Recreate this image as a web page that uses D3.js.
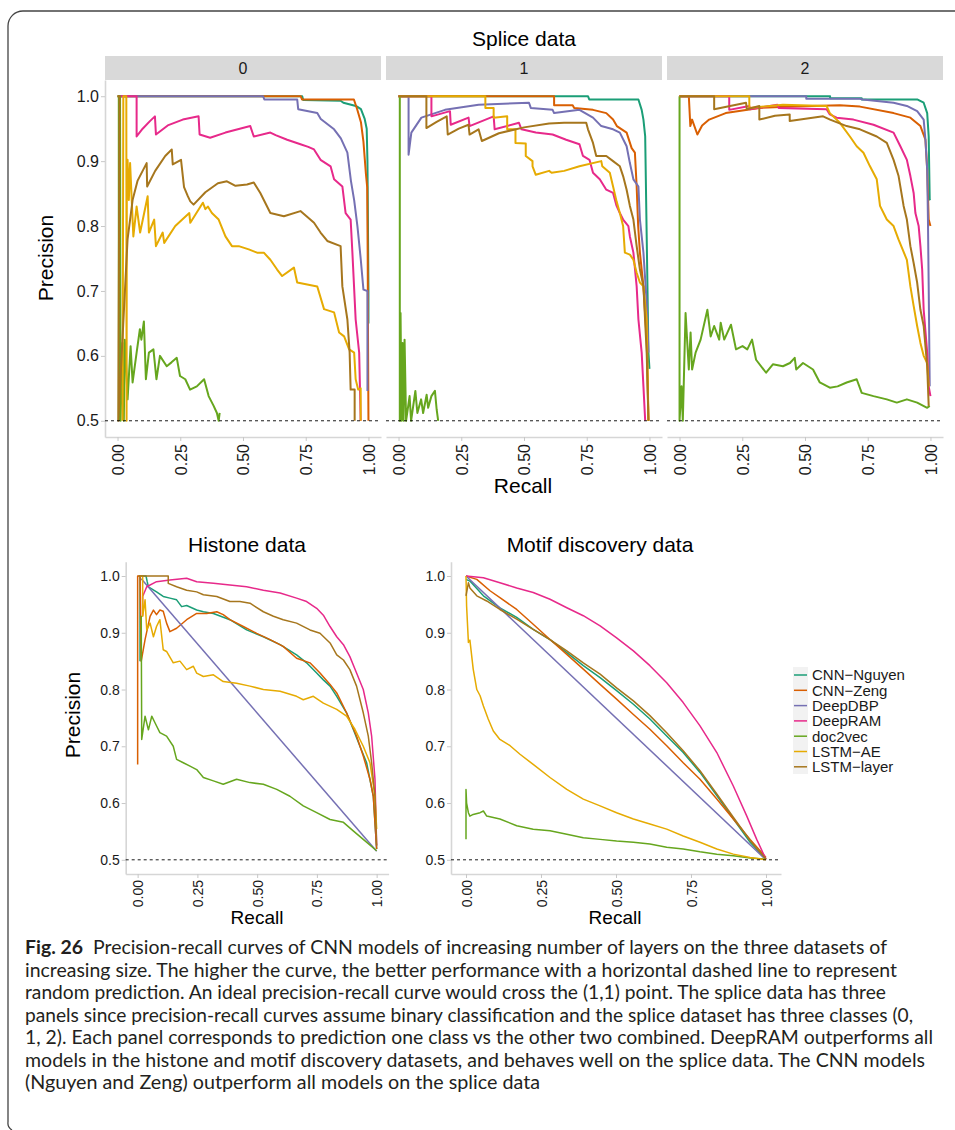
<!DOCTYPE html>
<html>
<head>
<meta charset="utf-8">
<script src="https://cdn.jsdelivr.net/npm/d3@7"></script>
<style>
  body { margin: 0; background: #fff; }
  svg { display: block; }
</style>
</head>
<body>
<div id="chart"></div>
<script>
// models and colours (ggplot Dark2)
const models = ["CNN\u2212Nguyen", "CNN\u2212Zeng", "DeepDBP", "DeepRAM", "doc2vec", "LSTM\u2212AE", "LSTM\u2212layer"];
const colours = ["#1B9E77", "#D95F02", "#7570B3", "#E7298A", "#66A61E", "#E6AB02", "#A6761D"];
const xTicks = [0, 0.25, 0.5, 0.75, 1];
const xTickLabels = ["0.00", "0.25", "0.50", "0.75", "1.00"];
const yTicks = [0.5, 0.6, 0.7, 0.8, 0.9, 1.0];
const yTickLabels = ["0.5", "0.6", "0.7", "0.8", "0.9", "1.0"];
const facetLabels = ["0", "1", "2"];
const randomLine = 0.5;

// splice data, class 0 : [recall, precision]
const s0Nguyen = [[0,1],[0.736,1],[0.74,0.994],[0.889,0.993],[0.9,0.99],[0.95,0.985],[0.97,0.98],[0.985,0.965],[0.993,0.95],[0.996,0.9],[0.998,0.8],[1.0,0.7],[1.0,0.65]];
const s0Zeng = [[0,1],[0.73,1],[0.735,0.995],[0.942,0.995],[0.955,0.98],[0.97,0.96],[0.98,0.93],[0.99,0.88],[0.995,0.86],[0.997,0.75],[0.998,0.65],[1.0,0.5]];
const s0DBP = [[0.01,1],[0.58,1],[0.585,0.995],[0.716,0.995],[0.72,0.98],[0.796,0.974],[0.81,0.965],[0.863,0.949],[0.89,0.935],[0.916,0.913],[0.93,0.87],[0.943,0.84],[0.956,0.8],[0.969,0.75],[0.98,0.702],[0.996,0.7],[0.996,0.546]];
const s0RAM = [[0.01,1],[0.076,1],[0.076,0.938],[0.1,0.95],[0.13,0.962],[0.149,0.969],[0.153,0.941],[0.2,0.955],[0.26,0.964],[0.323,0.969],[0.327,0.941],[0.369,0.936],[0.43,0.944],[0.529,0.954],[0.543,0.938],[0.609,0.944],[0.63,0.94],[0.676,0.933],[0.729,0.926],[0.76,0.922],[0.783,0.918],[0.809,0.902],[0.849,0.892],[0.863,0.872],[0.896,0.861],[0.909,0.82],[0.929,0.81],[0.936,0.759],[0.949,0.656],[0.963,0.605],[0.969,0.5]];
const s0Doc = [[0.005,0.5],[0.005,1],[0.01,1],[0.012,0.5],[0.02,0.62],[0.025,0.5],[0.029,0.625],[0.035,0.579],[0.04,0.533],[0.052,0.615],[0.06,0.559],[0.076,0.605],[0.089,0.641],[0.095,0.625],[0.105,0.653],[0.113,0.564],[0.125,0.605],[0.143,0.61],[0.155,0.564],[0.169,0.6],[0.196,0.584],[0.215,0.59],[0.236,0.597],[0.249,0.569],[0.27,0.564],[0.289,0.548],[0.316,0.553],[0.345,0.564],[0.363,0.538],[0.383,0.523],[0.396,0.512],[0.403,0.5],[0.407,0.512]];
const s0AE = [[0.02,0.5],[0.023,1],[0.035,1],[0.036,0.5],[0.037,0.9],[0.04,0.902],[0.045,0.84],[0.05,0.897],[0.063,0.784],[0.076,0.83],[0.09,0.79],[0.12,0.846],[0.125,0.79],[0.146,0.81],[0.153,0.769],[0.18,0.79],[0.186,0.774],[0.23,0.8],[0.286,0.82],[0.29,0.805],[0.34,0.836],[0.35,0.826],[0.36,0.83],[0.376,0.82],[0.403,0.81],[0.43,0.784],[0.456,0.769],[0.483,0.769],[0.523,0.764],[0.556,0.759],[0.583,0.759],[0.609,0.748],[0.636,0.733],[0.656,0.723],[0.703,0.736],[0.716,0.713],[0.796,0.707],[0.823,0.672],[0.863,0.667],[0.883,0.636],[0.903,0.63],[0.923,0.61],[0.943,0.605],[0.949,0.564],[0.959,0.548],[0.969,0.55],[0.969,0.5]];
const s0Layer = [[0,1],[0.008,1],[0.003,0.5],[0.036,0.75],[0.04,0.78],[0.06,0.84],[0.08,0.87],[0.116,0.897],[0.118,0.861],[0.15,0.885],[0.19,0.908],[0.216,0.918],[0.22,0.895],[0.253,0.902],[0.265,0.86],[0.28,0.846],[0.29,0.838],[0.303,0.833],[0.35,0.852],[0.4,0.866],[0.436,0.869],[0.47,0.862],[0.516,0.864],[0.543,0.867],[0.569,0.851],[0.609,0.82],[0.663,0.815],[0.729,0.823],[0.783,0.805],[0.809,0.79],[0.836,0.777],[0.889,0.769],[0.896,0.707],[0.916,0.656],[0.925,0.605],[0.929,0.548],[0.945,0.548],[0.945,0.5]];

// splice data, class 1
const s1Nguyen = [[0,1],[0.755,1],[0.76,0.995],[0.956,0.995],[0.969,0.979],[0.976,0.964],[0.983,0.938],[0.989,0.784],[0.996,0.605],[1.0,0.58]];
const s1Zeng = [[0,1],[0.62,1],[0.62,0.986],[0.694,0.986],[0.7,0.982],[0.775,0.979],[0.828,0.974],[0.855,0.964],[0.87,0.954],[0.909,0.944],[0.929,0.92],[0.942,0.913],[0.949,0.861],[0.955,0.8],[0.962,0.759],[0.976,0.707],[0.989,0.625],[0.996,0.5]];
const s1DBP = [[0,1],[0.04,1],[0.04,0.91],[0.051,0.944],[0.091,0.967],[0.185,0.979],[0.319,0.987],[0.52,0.99],[0.527,0.982],[0.614,0.979],[0.62,0.974],[0.721,0.979],[0.775,0.967],[0.808,0.954],[0.855,0.949],[0.882,0.944],[0.909,0.923],[0.922,0.897],[0.936,0.872],[0.956,0.861],[0.962,0.81],[0.976,0.759],[0.989,0.682],[0.996,0.605]];
const s1RAM = [[0,1],[0.131,1],[0.131,0.969],[0.205,0.977],[0.208,0.956],[0.279,0.967],[0.283,0.954],[0.379,0.969],[0.383,0.949],[0.48,0.959],[0.49,0.949],[0.547,0.944],[0.614,0.941],[0.668,0.933],[0.721,0.926],[0.735,0.908],[0.761,0.902],[0.775,0.882],[0.802,0.872],[0.828,0.856],[0.855,0.851],[0.869,0.831],[0.882,0.82],[0.895,0.81],[0.916,0.8],[0.922,0.784],[0.936,0.759],[0.949,0.707],[0.956,0.656],[0.969,0.605],[0.976,0.553],[0.983,0.5]];
const s1Doc = [[0.005,1],[0.005,0.5],[0.008,0.666],[0.012,0.5],[0.016,0.62],[0.02,0.5],[0.024,0.625],[0.03,0.5],[0.044,0.538],[0.05,0.5],[0.067,0.546],[0.075,0.512],[0.09,0.533],[0.098,0.512],[0.112,0.54],[0.118,0.52],[0.131,0.538],[0.145,0.546],[0.152,0.517],[0.158,0.5]];
const s1AE = [[0,1],[0.346,1],[0.346,0.982],[0.379,0.982],[0.379,0.967],[0.433,0.969],[0.433,0.949],[0.466,0.949],[0.466,0.928],[0.507,0.927],[0.507,0.908],[0.534,0.9],[0.534,0.892],[0.547,0.879],[0.6,0.885],[0.61,0.882],[0.66,0.885],[0.721,0.892],[0.808,0.9],[0.812,0.892],[0.842,0.882],[0.855,0.861],[0.869,0.838],[0.882,0.82],[0.895,0.8],[0.902,0.759],[0.922,0.756],[0.936,0.748],[0.949,0.728],[0.962,0.713],[0.976,0.707],[0.989,0.656],[0.996,0.5]];
const s1Layer = [[0,1],[0.111,1],[0.111,0.951],[0.15,0.96],[0.192,0.969],[0.196,0.941],[0.24,0.95],[0.279,0.956],[0.283,0.941],[0.319,0.949],[0.332,0.931],[0.4,0.943],[0.5,0.952],[0.6,0.958],[0.66,0.959],[0.748,0.959],[0.755,0.949],[0.775,0.928],[0.788,0.908],[0.828,0.908],[0.855,0.9],[0.882,0.892],[0.895,0.877],[0.909,0.856],[0.922,0.831],[0.936,0.81],[0.949,0.769],[0.962,0.733],[0.976,0.707],[0.989,0.605],[0.996,0.5]];

// splice data, class 2
const s2Nguyen = [[0,1],[0.6,1],[0.6,0.997],[0.726,0.997],[0.726,0.995],[0.947,0.995],[0.973,0.99],[0.987,0.974],[0.993,0.938],[0.997,0.841],[1.0,0.84]];
const s2Zeng = [[0,1],[0.037,1],[0.043,0.954],[0.05,0.964],[0.071,0.941],[0.09,0.955],[0.118,0.964],[0.184,0.974],[0.318,0.982],[0.452,0.984],[0.639,0.986],[0.719,0.984],[0.853,0.974],[0.92,0.967],[0.96,0.954],[0.98,0.933],[0.987,0.887],[0.993,0.81],[1.0,0.8]];
const s2DBP = [[0,1],[0.505,1],[0.505,0.996],[0.719,0.996],[0.73,0.995],[0.853,0.99],[0.906,0.985],[0.947,0.977],[0.973,0.964],[0.98,0.933],[0.987,0.887],[0.99,0.81],[0.993,0.707],[0.997,0.553]];
const s2RAM = [[0,1],[0.198,1],[0.198,0.979],[0.278,0.985],[0.28,0.98],[0.39,0.987],[0.395,0.982],[0.586,0.98],[0.599,0.972],[0.626,0.967],[0.693,0.964],[0.773,0.956],[0.853,0.944],[0.88,0.923],[0.906,0.902],[0.92,0.877],[0.933,0.851],[0.94,0.82],[0.953,0.8],[0.96,0.769],[0.967,0.733],[0.973,0.671],[0.987,0.605],[0.993,0.553],[1.0,0.538]];
const s2Doc = [[0,1],[0,0.5],[0.008,0.553],[0.013,0.5],[0.024,0.666],[0.037,0.579],[0.044,0.636],[0.05,0.579],[0.064,0.605],[0.084,0.625],[0.111,0.671],[0.124,0.63],[0.138,0.646],[0.158,0.625],[0.164,0.651],[0.178,0.625],[0.205,0.648],[0.225,0.61],[0.251,0.615],[0.27,0.61],[0.289,0.625],[0.305,0.594],[0.345,0.574],[0.372,0.587],[0.412,0.584],[0.44,0.589],[0.459,0.597],[0.465,0.579],[0.492,0.589],[0.532,0.579],[0.559,0.559],[0.599,0.551],[0.63,0.553],[0.666,0.559],[0.706,0.564],[0.726,0.543],[0.773,0.538],[0.826,0.533],[0.866,0.528],[0.906,0.533],[0.947,0.528],[0.987,0.52],[0.997,0.523]];
const s2AE = [[0,1],[0.278,1],[0.278,0.982],[0.412,0.987],[0.586,0.985],[0.599,0.974],[0.639,0.959],[0.679,0.938],[0.706,0.923],[0.733,0.913],[0.759,0.892],[0.786,0.872],[0.799,0.831],[0.826,0.81],[0.853,0.8],[0.873,0.779],[0.906,0.748],[0.92,0.707],[0.933,0.677],[0.947,0.646],[0.96,0.62],[0.973,0.6],[0.987,0.589],[0.993,0.553]];
const s2Layer = [[0,1],[0.138,1],[0.138,0.98],[0.265,0.99],[0.268,0.98],[0.318,0.985],[0.318,0.964],[0.38,0.97],[0.439,0.972],[0.439,0.962],[0.572,0.969],[0.6,0.964],[0.666,0.954],[0.719,0.949],[0.786,0.938],[0.826,0.928],[0.853,0.902],[0.873,0.877],[0.893,0.831],[0.906,0.81],[0.92,0.769],[0.933,0.743],[0.947,0.713],[0.96,0.671],[0.973,0.646],[0.987,0.584],[0.993,0.523]];

// histone data
const hNguyen = [[0.01,0.85],[0.01,1],[0.035,1],[0.04,0.99],[0.045,0.981],[0.079,0.972],[0.107,0.964],[0.135,0.961],[0.163,0.958],[0.184,0.946],[0.205,0.948],[0.247,0.94],[0.275,0.937],[0.317,0.934],[0.386,0.923],[0.456,0.905],[0.526,0.893],[0.596,0.879],[0.665,0.861],[0.707,0.847],[0.749,0.829],[0.777,0.817],[0.805,0.806],[0.833,0.788],[0.874,0.759],[0.902,0.73],[0.93,0.7],[0.958,0.671],[0.986,0.612],[1.0,0.519]];
const hZeng = [[0,0.668],[0,1],[0.01,1],[0.015,0.85],[0.031,0.888],[0.052,0.929],[0.066,0.94],[0.079,0.932],[0.093,0.94],[0.107,0.938],[0.121,0.917],[0.135,0.902],[0.163,0.908],[0.205,0.923],[0.247,0.934],[0.289,0.934],[0.331,0.937],[0.358,0.932],[0.386,0.923],[0.442,0.911],[0.498,0.899],[0.554,0.888],[0.609,0.876],[0.665,0.855],[0.721,0.847],[0.763,0.829],[0.805,0.809],[0.833,0.794],[0.874,0.759],[0.916,0.718],[0.944,0.683],[0.972,0.642],[0.986,0.612],[1.0,0.519]];
const hDBP = [[0.015,0.995],[1.0,0.515]];
const hRAM = [[0.021,0.93],[0.021,0.964],[0.038,0.981],[0.079,0.99],[0.135,0.993],[0.205,0.996],[0.247,0.99],[0.317,0.987],[0.386,0.984],[0.456,0.981],[0.526,0.975],[0.596,0.97],[0.665,0.961],[0.707,0.955],[0.749,0.943],[0.777,0.931],[0.805,0.911],[0.833,0.893],[0.861,0.879],[0.888,0.858],[0.916,0.829],[0.944,0.8],[0.965,0.759],[0.979,0.718],[0.993,0.642],[1.0,0.525]];
const hDoc = [[0.015,0.93],[0.017,0.712],[0.031,0.753],[0.045,0.729],[0.059,0.753],[0.073,0.741],[0.093,0.724],[0.121,0.718],[0.149,0.7],[0.163,0.677],[0.191,0.671],[0.219,0.665],[0.247,0.659],[0.275,0.645],[0.317,0.639],[0.358,0.633],[0.414,0.642],[0.47,0.636],[0.526,0.633],[0.582,0.624],[0.637,0.612],[0.693,0.595],[0.749,0.583],[0.805,0.571],[0.861,0.566],[0.902,0.551],[0.944,0.536],[1.0,0.516]];
const hAE = [[0.01,1],[0.021,1],[0.021,0.929],[0.031,0.958],[0.038,0.905],[0.052,0.917],[0.066,0.893],[0.079,0.911],[0.093,0.923],[0.107,0.87],[0.121,0.867],[0.149,0.847],[0.177,0.85],[0.205,0.835],[0.233,0.841],[0.247,0.829],[0.275,0.823],[0.317,0.826],[0.358,0.814],[0.414,0.811],[0.47,0.806],[0.526,0.8],[0.596,0.797],[0.665,0.788],[0.693,0.782],[0.735,0.788],[0.777,0.776],[0.833,0.765],[0.874,0.753],[0.909,0.73],[0.944,0.7],[0.972,0.671],[0.993,0.612],[1.0,0.554]];
const hLayer = [[0.003,1],[0.128,1],[0.128,0.987],[0.163,0.981],[0.205,0.975],[0.247,0.972],[0.275,0.967],[0.331,0.964],[0.386,0.955],[0.428,0.955],[0.47,0.952],[0.526,0.937],[0.568,0.929],[0.609,0.923],[0.665,0.917],[0.721,0.905],[0.763,0.899],[0.805,0.882],[0.833,0.861],[0.861,0.852],[0.888,0.835],[0.916,0.806],[0.944,0.759],[0.965,0.718],[0.979,0.671],[0.993,0.612],[1.0,0.525]];

// motif discovery data
const mNguyen = [[0,0.994],[0.013,0.991],[0.058,0.965],[0.113,0.944],[0.169,0.927],[0.224,0.906],[0.28,0.888],[0.336,0.865],[0.391,0.842],[0.447,0.821],[0.502,0.798],[0.558,0.774],[0.613,0.748],[0.669,0.718],[0.724,0.689],[0.78,0.654],[0.836,0.613],[0.891,0.572],[0.947,0.531],[1.0,0.501]];
const mZeng = [[0,1],[0.036,0.994],[0.08,0.974],[0.113,0.962],[0.169,0.941],[0.224,0.915],[0.28,0.888],[0.336,0.862],[0.391,0.836],[0.447,0.809],[0.502,0.783],[0.558,0.756],[0.613,0.73],[0.669,0.701],[0.724,0.671],[0.78,0.642],[0.836,0.607],[0.891,0.572],[0.947,0.536],[1.0,0.504]];
const mDBP = [[0,1],[1,0.5]];
const mRAM = [[0,1],[0.058,0.997],[0.113,0.988],[0.169,0.979],[0.224,0.971],[0.28,0.959],[0.336,0.944],[0.391,0.93],[0.447,0.912],[0.502,0.891],[0.558,0.868],[0.613,0.842],[0.669,0.812],[0.724,0.777],[0.78,0.736],[0.836,0.689],[0.891,0.63],[0.936,0.577],[0.969,0.536],[1.0,0.501]];
const mDoc = [[0,0.536],[0,0.624],[0.002,0.6],[0.008,0.583],[0.013,0.577],[0.024,0.58],[0.047,0.583],[0.058,0.586],[0.069,0.577],[0.113,0.572],[0.169,0.56],[0.224,0.554],[0.28,0.551],[0.336,0.545],[0.391,0.539],[0.447,0.536],[0.502,0.533],[0.558,0.531],[0.613,0.528],[0.669,0.522],[0.724,0.519],[0.78,0.514],[0.836,0.51],[0.891,0.507],[0.947,0.503],[1.0,0.501]];
const mAE = [[0,1],[0.002,0.947],[0.008,0.883],[0.013,0.887],[0.024,0.836],[0.036,0.8],[0.047,0.789],[0.058,0.771],[0.074,0.748],[0.091,0.727],[0.113,0.712],[0.147,0.701],[0.18,0.686],[0.224,0.668],[0.28,0.645],[0.336,0.624],[0.391,0.607],[0.447,0.595],[0.502,0.583],[0.558,0.572],[0.613,0.563],[0.669,0.554],[0.724,0.542],[0.78,0.531],[0.836,0.519],[0.891,0.51],[0.947,0.504],[1.0,0.5]];
const mLayer = [[0,0.965],[0.008,0.988],[0.013,0.979],[0.036,0.965],[0.069,0.956],[0.113,0.941],[0.169,0.924],[0.224,0.906],[0.28,0.888],[0.336,0.868],[0.391,0.847],[0.447,0.827],[0.502,0.803],[0.558,0.78],[0.613,0.754],[0.669,0.724],[0.724,0.692],[0.78,0.657],[0.836,0.616],[0.891,0.575],[0.947,0.534],[1.0,0.501]];

const splice0 = [s0Nguyen, s0Zeng, s0DBP, s0RAM, s0Doc, s0AE, s0Layer];
const splice1 = [s1Nguyen, s1Zeng, s1DBP, s1RAM, s1Doc, s1AE, s1Layer];
const splice2 = [s2Nguyen, s2Zeng, s2DBP, s2RAM, s2Doc, s2AE, s2Layer];
const histone = [hNguyen, hZeng, hDBP, hRAM, hDoc, hAE, hLayer];
const motif = [mNguyen, mZeng, mDBP, mRAM, mDoc, mAE, mLayer];

const captionLines = [
  "Precision-recall curves of CNN models of increasing number of layers on the three datasets of",
  "increasing size. The higher the curve, the better performance with a horizontal dashed line to represent",
  "random prediction. An ideal precision-recall curve would cross the (1,1) point. The splice data has three",
  "panels since precision-recall curves assume binary classification and the splice dataset has three classes (0,",
  "1, 2). Each panel corresponds to prediction one class vs the other two combined. DeepRAM outperforms all",
  "models in the histone and motif discovery datasets, and behaves well on the splice data. The CNN models",
  "(Nguyen and Zeng) outperform all models on the splice data"
];
const captionEnds = [887, 897, 886, 913, 933, 925, 540];

var W = 955, H = 1130;
var font = "'Liberation Sans', Arial, sans-serif";
var axisGrey = "#d6d6d6";

var svg = d3.select("#chart").append("svg")
    .attr("width", W)
    .attr("height", H)
    .style("font-family", font);

// outer frame of the figure box
svg.append("path")
    .attr("d", "M955,11 H23 A15,15 0 0 0 8,26 V1122 A8,8 0 0 0 12,1130")
    .attr("fill", "none")
    .attr("stroke", "#444")
    .attr("stroke-width", 1.3);

// draws one panel: axes, dashed random line, curves
function drawPanel(box, data, opt) {
  var x = d3.scaleLinear().domain([-0.05, 1.05]).range([box.left, box.right]);
  var y = d3.scaleLinear().domain([0.475, 1.025]).range([box.bottom, box.top]);
  var g = svg.append("g");

  // x axis with rotated labels
  var xa = g.append("g")
      .attr("transform", "translate(0," + box.bottom + ")")
      .call(d3.axisBottom(x).tickValues(xTicks)
        .tickFormat(function(d, i) { return xTickLabels[i]; })
        .tickSize(4).tickSizeOuter(0));
  xa.select(".domain").attr("stroke", axisGrey).attr("stroke-width", 1.6);
  xa.selectAll(".tick line").attr("stroke", "#c8c8c8");
  xa.selectAll("text")
      .attr("transform", "rotate(-90)")
      .attr("text-anchor", "end")
      .attr("x", -opt.labelGap)
      .attr("y", 0)
      .attr("dy", "0.36em")
      .attr("fill", "#1a1a1a")
      .style("font-size", opt.tickFont + "px")
      .style("font-family", font);

  if (opt.yAxis) {
    var ya = g.append("g")
        .attr("transform", "translate(" + box.left + ",0)")
        .call(d3.axisLeft(y).tickValues(yTicks)
          .tickFormat(function(d, i) { return yTickLabels[i]; })
          .tickSize(4).tickSizeOuter(0));
    ya.select(".domain").attr("stroke", axisGrey).attr("stroke-width", 1.6);
    ya.selectAll(".tick line").attr("stroke", "#c8c8c8");
    ya.selectAll("text")
        .attr("x", -6)
        .attr("fill", "#1a1a1a")
        .style("font-size", opt.tickFont + "px")
        .style("font-family", font);
  }

  // curves, in legend order
  var line = d3.line()
      .x(function(d) { return x(d[0]); })
      .y(function(d) { return y(d[1]); });

  data.forEach(function(series, i) {
    g.append("path")
        .datum(series)
        .attr("d", line)
        .attr("fill", "none")
        .attr("stroke", colours[i])
        .attr("stroke-width", opt.lineWidth)
        .attr("stroke-linejoin", "round");
  });

  // horizontal dashed line for random prediction
  g.append("line")
      .attr("x1", box.left).attr("x2", box.right)
      .attr("y1", y(randomLine)).attr("y2", y(randomLine))
      .attr("stroke", "#000")
      .attr("stroke-width", 0.9)
      .attr("stroke-dasharray", "3,3");

  return g;
}

// ---- splice data, three facets ----
var spliceBoxes = [
  {left: 105, right: 381, top: 80, bottom: 437},
  {left: 386, right: 662, top: 80, bottom: 437},
  {left: 667, right: 943, top: 80, bottom: 437}
];
var spliceData = [splice0, splice1, splice2];

spliceBoxes.forEach(function(b, k) {
  svg.append("rect")
      .attr("x", b.left).attr("y", 56)
      .attr("width", b.right - b.left).attr("height", 24)
      .attr("fill", "#d9d9d9");
  svg.append("text")
      .attr("x", (b.left + b.right) / 2).attr("y", 74)
      .attr("text-anchor", "middle")
      .style("font-size", "16px")
      .attr("fill", "#1a1a1a")
      .text(facetLabels[k]);
  drawPanel(b, spliceData[k], {yAxis: k === 0, tickFont: 16, labelGap: 7, lineWidth: 2});
});

svg.append("text")
    .attr("x", 524).attr("y", 46)
    .attr("text-anchor", "middle")
    .style("font-size", "21px")
    .text("Splice data");

svg.append("text")
    .attr("x", 523).attr("y", 493)
    .attr("text-anchor", "middle")
    .style("font-size", "21px")
    .text("Recall");

svg.append("text")
    .attr("transform", "translate(53,258) rotate(-90)")
    .attr("text-anchor", "middle")
    .style("font-size", "21px")
    .text("Precision");

// ---- histone data ----
var histBox = {left: 125.7, right: 388.6, top: 561.8, bottom: 874};
drawPanel(histBox, histone, {yAxis: true, tickFont: 14, labelGap: 6, lineWidth: 1.5});

svg.append("text")
    .attr("x", 247).attr("y", 552)
    .attr("text-anchor", "middle")
    .style("font-size", "21px")
    .text("Histone data");
svg.append("text")
    .attr("x", 257).attr("y", 924)
    .attr("text-anchor", "middle")
    .style("font-size", "19px")
    .text("Recall");
svg.append("text")
    .attr("transform", "translate(80,715) rotate(-90)")
    .attr("text-anchor", "middle")
    .style("font-size", "21px")
    .text("Precision");

// ---- motif discovery data ----
var motifBox = {left: 451, right: 781, top: 561.8, bottom: 874};
drawPanel(motifBox, motif, {yAxis: true, tickFont: 14, labelGap: 6, lineWidth: 1.5});

svg.append("text")
    .attr("x", 600).attr("y", 552)
    .attr("text-anchor", "middle")
    .style("font-size", "21px")
    .text("Motif discovery data");
svg.append("text")
    .attr("x", 615).attr("y", 924)
    .attr("text-anchor", "middle")
    .style("font-size", "19px")
    .text("Recall");

// ---- legend ----
var legend = svg.append("g").attr("transform", "translate(793,667)");
legend.append("rect")
    .attr("width", 15).attr("height", 107)
    .attr("fill", "#f2f2f2");
models.forEach(function(m, i) {
  var cy = 8 + i * 15.3;
  legend.append("line")
      .attr("x1", 1).attr("x2", 14)
      .attr("y1", cy).attr("y2", cy)
      .attr("stroke", colours[i])
      .attr("stroke-width", 1.5);
  legend.append("text")
      .attr("x", 19).attr("y", cy + 5.3)
      .style("font-size", "15px")
      .attr("fill", "#1a1a1a")
      .text(m);
});

// ---- caption ----
var cap = svg.append("g")
    .style("font-family", "Lato, 'Open Sans', sans-serif")
    .style("font-size", "18.5px")
    .attr("fill", "#231f20");

captionLines.forEach(function(t, i) {
  var tx = cap.append("text")
      .attr("x", 25)
      .attr("y", 954 + i * 22.5)
      .attr("textLength", captionEnds[i] - 25)
      .attr("lengthAdjust", "spacingAndGlyphs");
  if (i === 0) {
    tx.append("tspan").attr("font-weight", "bold").text("Fig. 26");
    tx.append("tspan").text("\u00a0\u00a0" + t);
  } else {
    tx.text(t);
  }
});
</script>
</body>
</html>
